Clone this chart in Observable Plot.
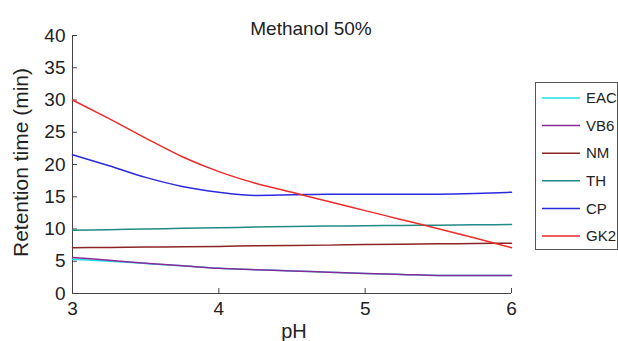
<!DOCTYPE html>
<html>
<head>
<meta charset="utf-8">
<script src="https://cdn.jsdelivr.net/npm/d3@7"></script>
<script src="https://cdn.jsdelivr.net/npm/@observablehq/plot@0.6"></script>
<style>
  html, body { margin: 0; padding: 0; background: #fff; }
  svg { display: block; }
</style>
</head>
<body>
<div id="chart"></div>
<script>
const pH = [3, 3.25, 3.5, 3.75, 4, 4.25, 4.5, 4.75, 5, 5.25, 5.5, 5.75, 6];
const seriesNames = ["EAC", "VB6", "NM", "TH", "CP", "GK2"];
const seriesColors = ["#1fe0e8", "#8a2a9a", "#8e2424", "#1f8a86", "#2a2ae0", "#ee2a2a"];
const EAC = [5.3, 5.0, 4.65, 4.3, 3.9, 3.7, 3.5, 3.3, 3.1, 2.95, 2.8, 2.8, 2.8];
const VB6 = [5.6, 5.15, 4.7, 4.3, 3.9, 3.7, 3.5, 3.3, 3.1, 2.95, 2.8, 2.8, 2.8];
const NM  = [7.1, 7.15, 7.2, 7.25, 7.3, 7.4, 7.45, 7.5, 7.6, 7.65, 7.7, 7.75, 7.8];
const TH  = [9.8, 9.9, 10.0, 10.1, 10.2, 10.3, 10.4, 10.45, 10.5, 10.55, 10.6, 10.65, 10.7];
const CP  = [21.5, 19.8, 18.0, 16.6, 15.7, 15.2, 15.3, 15.4, 15.4, 15.4, 15.4, 15.5, 15.7];
const GK2 = [30, 27.1, 24.1, 21.2, 18.9, 17.1, 15.7, 14.25, 12.85, 11.45, 10.05, 8.6, 7.1];
const xTicks = [3, 4, 5, 6];
const yTicks = [0, 5, 10, 15, 20, 25, 30, 35, 40];
const titleText = "Methanol 50%";
const xLabel = "pH";
const yLabel = "Retention time (min)";

const valuesBySeries = {EAC, VB6, NM, TH, CP, GK2};
const rows = seriesNames.flatMap(name => valuesBySeries[name].map((v, i) => ({series: name, pH: pH[i], value: v})));

const FONT = "'Liberation Sans', Arial, sans-serif";
const W = 618, H = 341;
const chart = Plot.plot({
  width: W,
  height: H,
  marginLeft: 72,
  marginRight: 107,
  marginTop: 35,
  marginBottom: 48,
  style: {fontFamily: FONT, fontSize: "19px", color: "#222", background: "#fff"},
  x: {domain: [3, 6]},
  y: {domain: [0, 40]},
  color: {domain: seriesNames, range: seriesColors},
  marks: [
    Plot.ruleX([3], {stroke: "#444", strokeWidth: 1}),
    Plot.ruleY([0], {stroke: "#444", strokeWidth: 1}),
    Plot.axisY({ticks: yTicks, tickSize: -5, tickPadding: 12, tickFormat: d3.format("d"), label: null, stroke: "#444", fontSize: 19}),
    Plot.axisX({ticks: xTicks, tickSize: -5, tickPadding: 13, tickFormat: d3.format("d"), label: null, stroke: "#444", fontSize: 19}),
    Plot.line(rows, {x: "pH", y: "value", z: "series", stroke: "series", strokeWidth: 1.5, curve: "monotone-x"}),
    Plot.text([titleText], {frameAnchor: "top", lineAnchor: "middle", dx: 19, dy: -7, fontSize: 19, fill: "#222"}),
    Plot.text([xLabel], {frameAnchor: "bottom", lineAnchor: "middle", dx: 2, dy: 38, fontSize: 20, fill: "#222"}),
    Plot.text([yLabel], {frameAnchor: "left", textAnchor: "middle", lineAnchor: "middle", rotate: -90, dx: -51, dy: -2, fontSize: 21, fill: "#222"})
  ]
});

// Legend
const svg = d3.select(chart);
const lg = svg.append("g").attr("font-family", FONT).attr("font-size", 15).attr("text-anchor", "start");
lg.append("rect").attr("x", 535.5).attr("y", 82.5).attr("width", 82).attr("height", 167)
  .attr("fill", "#fff").attr("stroke", "#555").attr("stroke-width", 1);
seriesNames.forEach((name, i) => {
  const y = 98 + i * 27.6;
  lg.append("line").attr("x1", 542).attr("x2", 580).attr("y1", y).attr("y2", y)
    .attr("stroke", seriesColors[i]).attr("stroke-width", 1.5);
  lg.append("text").attr("x", 586).attr("y", y).attr("dy", "0.35em").attr("text-anchor", "start").attr("fill", "#222").text(name);
});

document.getElementById("chart").appendChild(chart);
</script>
</body>
</html>
